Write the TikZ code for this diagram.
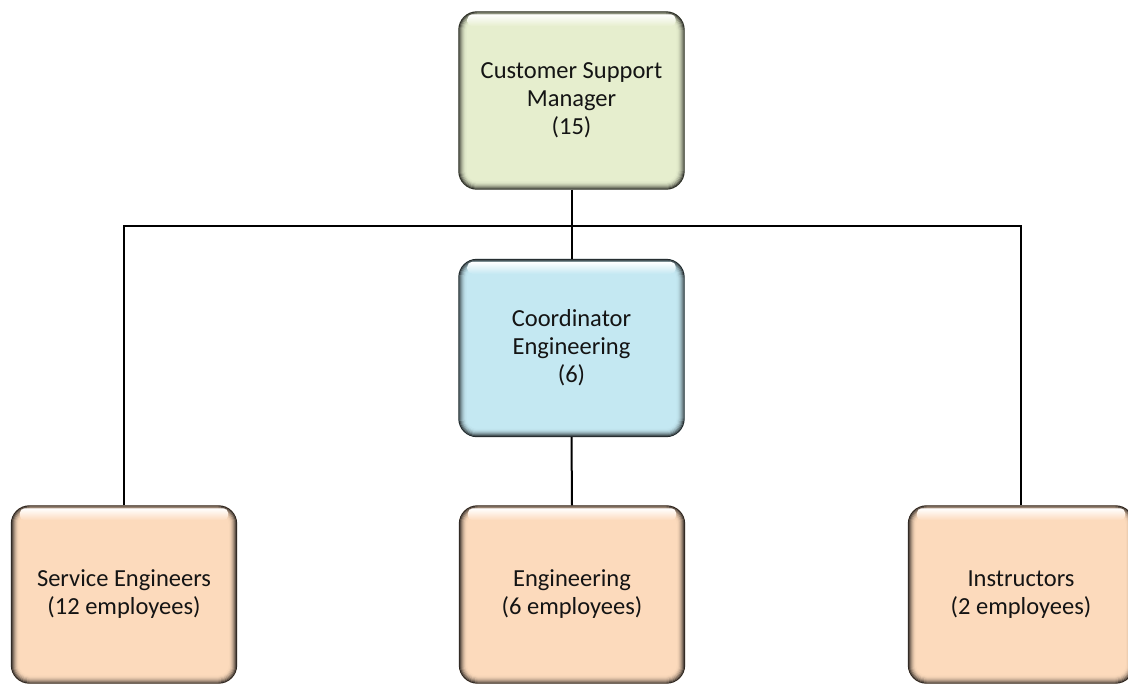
\documentclass[tikz,border=0pt]{standalone}
\usepackage{fontspec}
\setmainfont{Carlito}
\usetikzlibrary{calc}

\definecolor{mgrgreen}{RGB}{230,238,206}
\definecolor{coordblue}{RGB}{196,232,242}
\definecolor{staffpeach}{RGB}{252,218,188}
\definecolor{textdark}{RGB}{20,20,20}

\tikzset{
  orgbox/.style={rectangle, rounded corners=18pt, minimum width=226pt,
    minimum height=178pt, fill=#1, draw=none, align=center,
    font=\fontsize{24.5}{28}\selectfont, text=textdark, inner sep=0pt},
  link/.style={draw=black, line width=2pt},
}

% bevelled rim and top highlight for a box: #1 node name, #2 fill colour
\newcommand\bevelrim[2]{%
  \foreach \i/\p in {0/18,1/35,2/52,3/66,4/78,5/87,6/94,7/98}{
    \pgfmathsetmacro\rr{18-\i}
    \draw[line width=1.2pt, draw=#2!\p!black, rounded corners=\rr pt]
      ($(#1.north west)+(\i+0.6,\i+0.6)$) rectangle ($(#1.south east)+(-\i-0.6,-\i-0.6)$);
  }%
  \shade[top color=white, bottom color=#2, rounded corners=5pt]
    ($(#1.north west)+(9,3)$) rectangle ($(#1.north east)+(-9,15)$);
}

\begin{document}
\begin{tikzpicture}[x=1pt,y=-1pt]
  \useasboundingbox (0,0) rectangle (1128,684);
  \clip (0,0) rectangle (1128,684);
  \fill[white] (0,0) rectangle (1128,684);

  % org chart boxes
  \node[orgbox=mgrgreen]   (mgr)   at (571.5,100.5) {Customer Support\\Manager\\(15)};
  \node[orgbox=coordblue]  (coord) at (571.5,348)   {Coordinator\\Engineering\\(6)};
  \node[orgbox=staffpeach] (serv)  at (124,594.5)   {Service Engineers\\(12 employees)};
  \node[orgbox=staffpeach] (eng)   at (572,594.5)   {Engineering\\(6 employees)};
  \node[orgbox=staffpeach] (instr) at (1021,594.5)  {Instructors\\(2 employees)};

  \bevelrim{mgr}{mgrgreen}
  \bevelrim{coord}{coordblue}
  \bevelrim{serv}{staffpeach}
  \bevelrim{eng}{staffpeach}
  \bevelrim{instr}{staffpeach}

  % connectors
  \coordinate (bus) at (571.5,226);
  \draw[link] (mgr.south) -- (coord.north);
  \draw[link] (coord.south) -- (eng.north);
  \draw[link] (serv.north) |- (bus) -| (instr.north);
\end{tikzpicture}
\end{document}
